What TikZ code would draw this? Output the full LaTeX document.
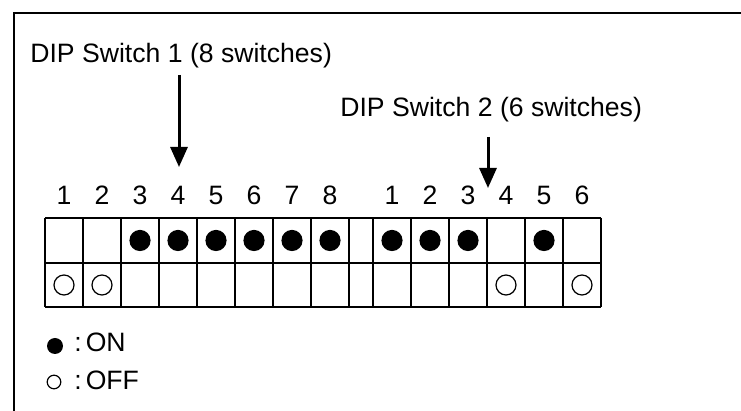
\documentclass[tikz,border=0pt]{standalone}
\usepackage{fontspec}
\setmainfont{Liberation Sans}
\usetikzlibrary{arrows.meta}
\tikzset{
  lbl/.style={anchor=base west,inner sep=0pt},
  num/.style={anchor=base,inner sep=0pt},
  grid/.style={line width=1pt},
  offdot/.style={line width=0.6pt}
}
\begin{document}
\begin{tikzpicture}[x=0.5pt,y=-0.5pt,>={Triangle[length=10pt,width=8.5pt]},
  font=\fontsize{13.3}{16}\selectfont]
 \useasboundingbox (0,0) rectangle (741,411);
 % frame
 \draw[line width=1.2pt] (14,411)--(14,13)--(741,13);
 % titles and arrows
 \node[lbl] (t1) at (30,63) {DIP Switch 1 (8 switches)};
 \node[lbl] (t2) at (340,117) {DIP Switch 2 (6 switches)};
 \coordinate (p1) at (179,75);
 \coordinate (q1) at (179,167);
 \coordinate (p2) at (488,137);
 \coordinate (q2) at (488,188);
 \draw[->,line width=1.5pt] (p1)--(q1);
 \draw[->,line width=1.5pt] (p2)--(q2);
 % grid
 \foreach \y in {218,263,307}
   \draw[grid] (45,\y)--(601,\y);
 \foreach \x in {45,83,...,349,373,411,...,601}
   \draw[grid] (\x,218)--(\x,307);
 % switch 1
 \foreach \s [count=\i] in {0,0,1,1,1,1,1,1} {
   \pgfmathsetmacro\cx{26+38*\i}
   \node[num] (a\i) at (\cx,205) {\i};
   \ifnum\s=1 \fill (\cx,240.5) circle[radius=5.3pt];
   \else \draw[offdot] (\cx,285) circle[radius=5pt]; \fi
 }
 % switch 2
 \foreach \s [count=\i] in {1,1,1,0,1,0} {
   \pgfmathsetmacro\cx{354+38*\i}
   \node[num] (b\i) at (\cx,205) {\i};
   \ifnum\s=1 \fill (\cx,240.5) circle[radius=5.3pt];
   \else \draw[offdot] (\cx,285) circle[radius=5pt]; \fi
 }
 % legend
 \fill (55,346) circle[radius=4pt];
 \node[lbl] (on) at (74,352) {:\kern2pt ON};
 \draw[offdot] (54,382) circle[radius=3.4pt];
 \node[lbl] (off) at (74,390) {:\kern2pt OFF};
\end{tikzpicture}
\end{document}
